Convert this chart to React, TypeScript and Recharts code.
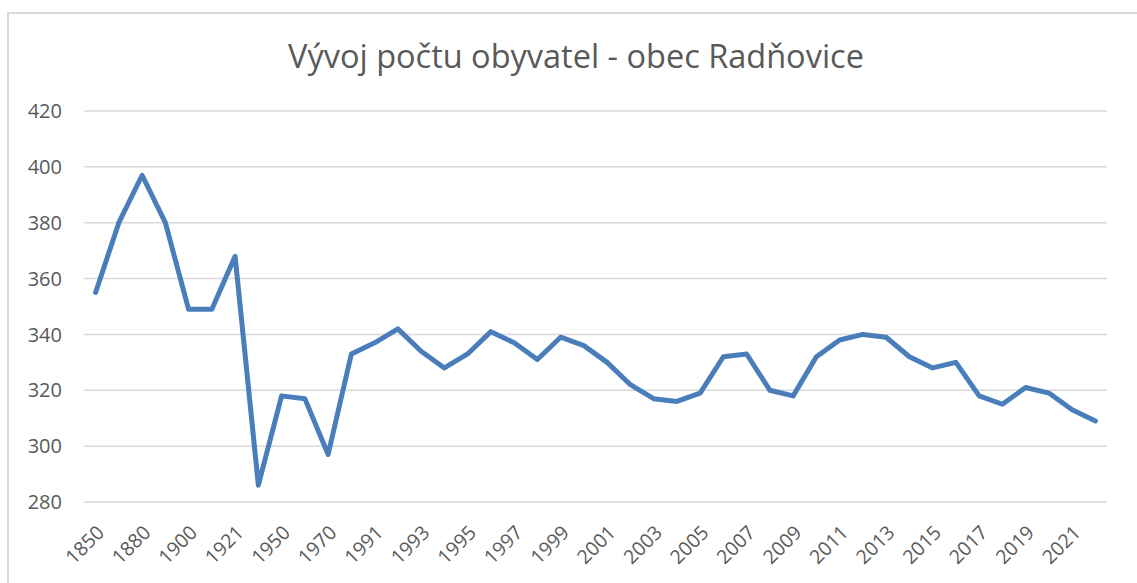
import React from "react";
import { LineChart, Line, XAxis, YAxis, CartesianGrid } from "recharts";

const years: string[] = [
  "1850", "1869", "1880", "1890", "1900", "1910", "1921", "1930", "1950", "1961", "1970", "1980",
  "1991", "1992", "1993", "1994", "1995", "1996", "1997", "1998", "1999", "2000", "2001", "2002",
  "2003", "2004", "2005", "2006", "2007", "2008", "2009", "2010", "2011", "2012", "2013", "2014",
  "2015", "2016", "2017", "2018", "2019", "2020", "2021", "2022",
];

const population: number[] = [
  355, 380, 397, 380, 349, 349, 368, 286, 318, 317, 297, 333,
  337, 342, 334, 328, 333, 341, 337, 331, 339, 336, 330, 322,
  317, 316, 319, 332, 333, 320, 318, 332, 338, 340, 339, 332,
  328, 330, 318, 315, 321, 319, 313, 309,
];

const yTicks: number[] = [280, 300, 320, 340, 360, 380, 400, 420];

const title = "Vývoj počtu obyvatel - obec Radňovice";

const data = years.map((y, i) => ({ year: y, value: population[i] }));

const FONT = "'Open Sans', sans-serif";
const TEXT_COLOR = "#595959";

export default function App() {
  return (
    <div
      style={{
        position: "absolute",
        left: 0,
        top: 0,
        width: 1137,
        height: 583,
        overflow: "hidden",
        background: "#fff",
        fontFamily: FONT,
      }}
    >
      <div
        style={{
          position: "absolute",
          left: 7,
          top: 12,
          width: 1200,
          height: 700,
          border: "2px solid #d9d9d9",
          boxSizing: "border-box",
        }}
      />
      <div
        style={{
          position: "absolute",
          left: 0,
          top: 36,
          width: 1152,
          textAlign: "center",
          fontSize: 32.5,
          color: TEXT_COLOR,
          lineHeight: "40px",
          fontFamily: FONT,
        }}
      >
        {title}
      </div>
      <div style={{ position: "absolute", left: 0, top: 0 }}>
        <LineChart
          width={1137}
          height={583}
          data={data}
          margin={{ top: 111, right: 30, bottom: 0, left: 0 }}
        >
          <CartesianGrid vertical={false} stroke="#d9d9d9" strokeWidth={1.5} />
          <XAxis
            dataKey="year"
            type="category"
            interval={1}
            axisLine={false}
            tickLine={false}
            height={81}
            padding={{ left: 11.6, right: 11.6 }}
            angle={-45}
            textAnchor="end"
            tickSize={0}
            tickMargin={22}
            tick={{ fill: TEXT_COLOR, fontSize: 19.5, fontFamily: FONT }}
          />
          <YAxis
            domain={[280, 420]}
            ticks={yTicks}
            width={84}
            axisLine={false}
            tickLine={false}
            tickSize={0}
            tickMargin={22}
            tick={{ fill: TEXT_COLOR, fontSize: 20, fontFamily: FONT }}
          />
          <Line
            type="linear"
            dataKey="value"
            stroke="#4a7ebb"
            strokeWidth={5}
            dot={false}
            isAnimationActive={false}
            strokeLinecap="round"
            strokeLinejoin="round"
          />
        </LineChart>
      </div>
    </div>
  );
}
